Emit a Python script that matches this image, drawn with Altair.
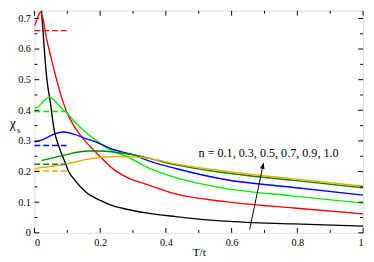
import altair as alt
import pandas as pd

# ---- data ----
series_names = ["0.1", "0.3", "0.5", "0.7", "0.9", "1.0"]
series_colors = ["#000000", "#ff0000", "#00ee00", "#0000ff", "#008b00", "#ffa500"]

t_01 = [0.02, 0.03, 0.038, 0.048, 0.06, 0.074, 0.094, 0.104, 0.12, 0.16, 0.2, 0.24, 0.28, 0.34, 0.43, 0.58, 0.79, 1.0]
chi_01 = [0.75, 0.60, 0.50, 0.43, 0.336, 0.283, 0.228, 0.20, 0.176, 0.13, 0.106, 0.088, 0.077, 0.065, 0.053, 0.038, 0.029, 0.022]

t_03 = [0.0, 0.009, 0.018, 0.026, 0.035, 0.05, 0.065, 0.085, 0.1, 0.12, 0.15, 0.188, 0.24, 0.28, 0.35, 0.43, 0.58, 0.79, 1.0]
chi_03 = [0.675, 0.70, 0.72, 0.70, 0.645, 0.575, 0.51, 0.435, 0.39, 0.35, 0.305, 0.262, 0.208, 0.182, 0.155, 0.127, 0.102, 0.081, 0.062]

t_05 = [0.0, 0.015, 0.03, 0.045, 0.06, 0.08, 0.1, 0.12, 0.15, 0.195, 0.24, 0.28, 0.34, 0.43, 0.58, 0.79, 1.0]
chi_05 = [0.407, 0.415, 0.432, 0.444, 0.433, 0.41, 0.39, 0.365, 0.334, 0.296, 0.265, 0.25, 0.215, 0.18, 0.145, 0.12, 0.097]

t_07 = [0.0, 0.02, 0.04, 0.06, 0.089, 0.12, 0.15, 0.195, 0.24, 0.30, 0.35, 0.43, 0.58, 0.79, 1.0]
chi_07 = [0.297, 0.302, 0.312, 0.322, 0.329, 0.322, 0.31, 0.293, 0.272, 0.255, 0.234, 0.21, 0.174, 0.148, 0.123]

t_09 = [0.022, 0.05, 0.1, 0.13, 0.17, 0.2, 0.24, 0.3, 0.35, 0.43, 0.58, 0.79, 1.0]
chi_09 = [0.236, 0.243, 0.256, 0.263, 0.267, 0.267, 0.264, 0.255, 0.243, 0.222, 0.196, 0.171, 0.147]

t_10 = [0.0, 0.03, 0.06, 0.1, 0.13, 0.16, 0.2, 0.25, 0.3, 0.35, 0.43, 0.58, 0.79, 1.0]
chi_10 = [0.21, 0.214, 0.218, 0.225, 0.233, 0.24, 0.246, 0.249, 0.248, 0.243, 0.225, 0.201, 0.176, 0.152]

# low-temperature limits (dashed), for n = 0.3 ... 1.0
dash_names = ["0.3", "0.5", "0.7", "0.9", "1.0"]
dash_levels = [0.66, 0.396, 0.285, 0.224, 0.202]
dash_t = [0.0, 0.1]

x_major = [0, 0.2, 0.4, 0.6, 0.8, 1.0]
x_minor = [0.1, 0.3, 0.5, 0.7, 0.9]
y_major = [0, 0.1, 0.2, 0.3, 0.4, 0.5, 0.6, 0.7]
y_minor = [0.05, 0.15, 0.25, 0.35, 0.45, 0.55, 0.65]

note_text = ["n = 0.1, 0.3, 0.5, 0.7, 0.9, 1.0"]
note_t = [0.7125]
note_chi = [0.26]
arrow_t = [0.655, 0.697]
arrow_chi = [0.011, 0.228]

# ---- tables ----
all_t = [t_01, t_03, t_05, t_07, t_09, t_10]
all_chi = [chi_01, chi_03, chi_05, chi_07, chi_09, chi_10]
rows = []
for name, ts, cs in zip(series_names, all_t, all_chi):
    for i, (t, c) in enumerate(zip(ts, cs)):
        rows.append({"n": name, "T": t, "chi": c, "i": i})
curves = pd.DataFrame(rows)

drows = []
for name, lvl in zip(dash_names, dash_levels):
    for i, t in enumerate(dash_t):
        drows.append({"n": name, "T": t, "chi": lvl, "i": i})
dashes = pd.DataFrame(drows)

W, H = 336, 227
FONT = "'Liberation Serif', 'Times New Roman', 'DejaVu Serif', serif"
xscale = alt.Scale(domain=[0, 1], nice=False, zero=False)
yscale = alt.Scale(domain=[0, 0.725], nice=False, zero=False)
cscale = alt.Scale(domain=series_names, range=series_colors)

base_x_axis = alt.Axis(values=x_major, format="~g", ticks=False, tickSize=0, domain=False,
                       grid=False, labelPadding=5, labelFont=FONT, labelFontSize=10.5,
                       labelColor="black", title="T/t", titleFont=FONT, titleFontSize=11.5,
                       titleFontWeight="normal", titleColor="black", titleY=23,
                       titleBaseline="alphabetic", labelOverlap=False)
base_y_axis = alt.Axis(values=y_major, format="~g", ticks=False, tickSize=0, domain=False,
                       grid=False, labelPadding=4, labelFont=FONT, labelFontSize=10.5,
                       labelColor="black", title=None, labelOverlap=False)

X = lambda: alt.X("T:Q", scale=xscale, axis=base_x_axis)
Y = lambda: alt.Y("chi:Q", scale=yscale, axis=base_y_axis)

lines = alt.Chart(curves).mark_line(strokeWidth=1.4, interpolate="monotone", clip=True).encode(
    x=X(), y=Y(),
    color=alt.Color("n:N", scale=cscale, legend=None),
    order="i:Q",
    detail="n:N",
)

dash_layer = alt.Chart(dashes).mark_line(strokeWidth=1.4, strokeDash=[6, 3]).encode(
    x=X(), y=Y(),
    color=alt.Color("n:N", scale=cscale, legend=None),
    detail="n:N",
)

def xticks(vals, y0, y1):
    return alt.Chart(pd.DataFrame({"T": vals})).mark_rule(color="black", strokeWidth=1).encode(
        x=X(), y=alt.value(y0), y2=alt.value(y1))

def yticks(vals, x0, x1):
    return alt.Chart(pd.DataFrame({"chi": vals})).mark_rule(color="black", strokeWidth=1).encode(
        y=Y(), x=alt.value(x0), x2=alt.value(x1))

ticks = [
    xticks(x_major, H, H - 5), xticks(x_minor, H, H - 3),
    xticks(x_major, 0, 5), xticks(x_minor, 0, 3),
    yticks(y_major, 0, 5), yticks(y_minor, 0, 3),
    yticks(y_major, W, W - 5), yticks(y_minor, W, W - 3),
]

note = alt.Chart(pd.DataFrame({"T": note_t, "chi": note_chi, "txt": note_text})).mark_text(
    font=FONT, fontSize=12.4, color="black", align="center", baseline="middle").encode(
    x=X(), y=Y(), text="txt:N")

arrow_df = pd.DataFrame({"T": arrow_t, "chi": arrow_chi})
arrow_line = alt.Chart(arrow_df).mark_line(color="black", strokeWidth=1).encode(x=X(), y=Y())
arrow_head = alt.Chart(arrow_df.iloc[[1]]).mark_point(
    shape="M0,0L-0.4,1L0.4,1Z", size=150, filled=True, color="black", opacity=1, angle=12).encode(
    x=X(), y=Y())

ytitle = alt.Chart(pd.DataFrame({"a": [0]})).mark_text(
    text="χ", font=FONT, fontSize=14, color="black", align="center", baseline="alphabetic").encode(
    x=alt.value(-22), y=alt.value(120))
ysub = alt.Chart(pd.DataFrame({"a": [0]})).mark_text(
    text="s", font=FONT, fontSize=9, color="black", align="center", baseline="alphabetic").encode(
    x=alt.value(-16), y=alt.value(125))

chart = alt.layer(lines, dash_layer, *ticks, note, arrow_line, arrow_head, ytitle, ysub).properties(
    width=W, height=H,
    autosize=alt.AutoSizeParams(type="none"),
    padding={"left": 27, "top": 0, "right": 3, "bottom": 27},
).configure_view(stroke="black", strokeWidth=1).configure(background="white").configure_axis(
    labelFont=FONT, titleFont=FONT)

chart.save("out.html", embed_options={"renderer": "svg", "actions": False})
